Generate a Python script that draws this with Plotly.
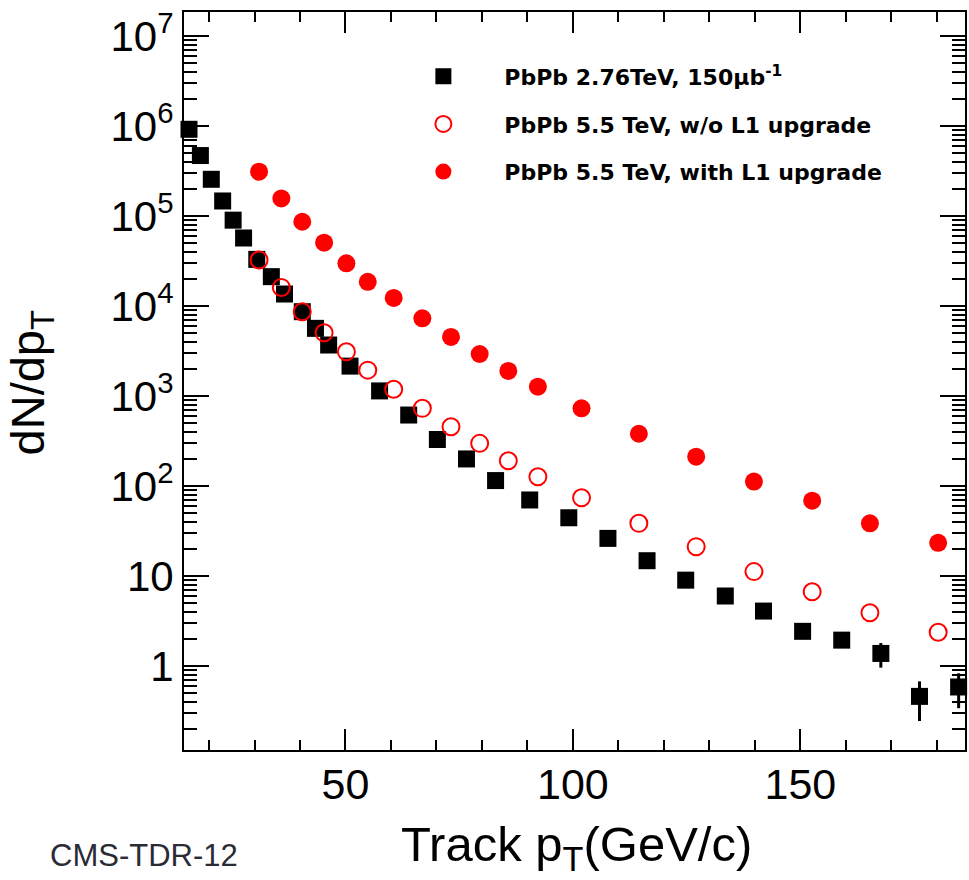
import plotly.graph_objects as go

# ---- data ----
pt_276 = [15.6, 18.1, 20.5, 23.0, 25.3, 27.6, 30.5, 33.7, 36.6, 40.5, 43.4, 46.3,
          51.0, 57.5, 63.9, 70.2, 76.6, 83.0, 90.5, 99.1, 107.7, 116.3, 124.8,
          133.5, 141.9, 150.5, 159.1, 167.7, 176.2, 184.8]
dndpt_276 = [9.2e5, 4.7e5, 2.56e5, 1.47e5, 9.0e4, 5.7e4, 3.3e4, 2.12e4, 1.36e4,
             8.65e3, 5.65e3, 3.69e3, 2.15e3, 1.14e3, 615, 329, 200, 115, 70,
             44.4, 26.2, 14.8, 9.0, 6.0, 4.08, 2.43, 1.94, 1.38, 0.46, 0.585]
err_276 = [0] * 25 + [0.12, 0.22, 0.42, 0.215, 0.245]

pt_55 = [31.0, 35.9, 40.5, 45.3, 50.2, 54.9, 60.6, 66.9, 73.2, 79.5, 85.8, 92.3,
         101.9, 114.5, 127.1, 139.8, 152.6, 165.3, 180.3]
dndpt_55_noL1 = [3.25e4, 1.61e4, 8.65e3, 5.05e3, 3.11e3, 1.94e3, 1.19e3, 730, 456,
                 298, 191, 127, 74.1, 38.5, 21.2, 11.2, 6.69, 3.91, 2.37]
dndpt_55_L1 = [3.11e5, 1.57e5, 8.64e4, 5.05e4, 2.98e4, 1.86e4, 1.23e4, 7.3e3,
               4.53e3, 2.93e3, 1.90e3, 1.27e3, 730, 381, 212, 112, 68.7, 38.5, 23.4]

y_tickvals = [1, 10, 1e2, 1e3, 1e4, 1e5, 1e6, 1e7]
y_ticktext = ["1", "10", "10<sup>2</sup>", "10<sup>3</sup>", "10<sup>4</sup>",
              "10<sup>5</sup>", "10<sup>6</sup>", "10<sup>7</sup>"]
x_tickvals = [50, 100, 150]
x_ticktext = ["50", "100", "150"]

names = ["PbPb 2.76TeV, 150μb<sup>-1</sup>",
         "PbPb 5.5 TeV, w/o L1 upgrade",
         "PbPb 5.5 TeV, with L1 upgrade"]
x_title = "Track p<sub>T</sub>(GeV/c)"
y_title = "dN/dp<sub>T</sub>"
note = "CMS-TDR-12"

RED = "#ff0000"
fig = go.Figure()
fig.add_trace(go.Scatter(
    x=pt_276, y=dndpt_276, mode="markers", name=names[0], legendgroup="a",
    marker=dict(symbol="square", size=17, color="black"),
    error_y=dict(type="data", array=err_276, color="black", thickness=3, width=0),
    cliponaxis=False))
fig.add_trace(go.Scatter(
    x=pt_55, y=dndpt_55_noL1, mode="markers", name=names[1], legendgroup="b",
    marker=dict(symbol="circle-open", size=17, color=RED, line=dict(width=2, color=RED)),
    cliponaxis=False))
fig.add_trace(go.Scatter(
    x=pt_55, y=dndpt_55_L1, mode="markers", name=names[2], legendgroup="c",
    marker=dict(symbol="circle", size=18, color=RED),
    cliponaxis=False))

FONT = "Liberation Sans, Arial, Helvetica, sans-serif"
axis_common = dict(
    ticks="inside", tickwidth=2, tickcolor="black",
    showline=True, linewidth=2, linecolor="black", mirror="allticks",
    showgrid=False, zeroline=False,
)

fig.update_xaxes(
    range=[14.5, 186.2], tickmode="array", tickvals=x_tickvals, ticktext=x_ticktext,
    ticklen=21, ticklabelstandoff=-5,
    tickfont=dict(family=FONT, size=43, color="black"),
    minor=dict(ticks="inside", tickmode="linear", dtick=10, tick0=0, ticklen=10,
               tickwidth=1.5, tickcolor="black", showgrid=False),
    **axis_common)
fig.update_yaxes(
    type="log", range=[-0.933, 7.267], tickmode="array", tickvals=y_tickvals,
    ticktext=y_ticktext, ticklen=25,
    tickfont=dict(family=FONT, size=42, color="black"),
    minor=dict(ticks="inside", dtick="D1", ticklen=13, tickwidth=1.5,
               tickcolor="black", showgrid=False),
    **axis_common)

fig.update_layout(
    width=969, height=880,
    margin=dict(l=184, r=2, t=12, b=130),
    plot_bgcolor="white", paper_bgcolor="white",
    showlegend=True,
    legend=dict(x=0.254, y=0.941, xanchor="left", yanchor="top",
                traceorder="grouped", tracegroupgap=16, itemwidth=112,
                bgcolor="rgba(0,0,0,0)",
                font=dict(family="DejaVu Sans", size=22, color="black", weight="bold")),
    annotations=[
        dict(text=x_title, xref="paper", yref="paper", x=0.5032, y=-0.1315,
             xanchor="center", yanchor="middle", showarrow=False,
             font=dict(family=FONT, size=49, color="black")),
        dict(text=y_title, xref="paper", yref="paper", x=-0.1954, y=0.4986,
             xanchor="center", yanchor="middle", textangle=-90, showarrow=False,
             font=dict(family=FONT, size=47, color="black")),
        dict(text=note, xref="paper", yref="paper",
             x=-0.1737, y=-0.1423, xanchor="left", yanchor="middle",
             showarrow=False, font=dict(family=FONT, size=31, color="#2b2b36")),
    ],
)

fig.write_html("out.html")
